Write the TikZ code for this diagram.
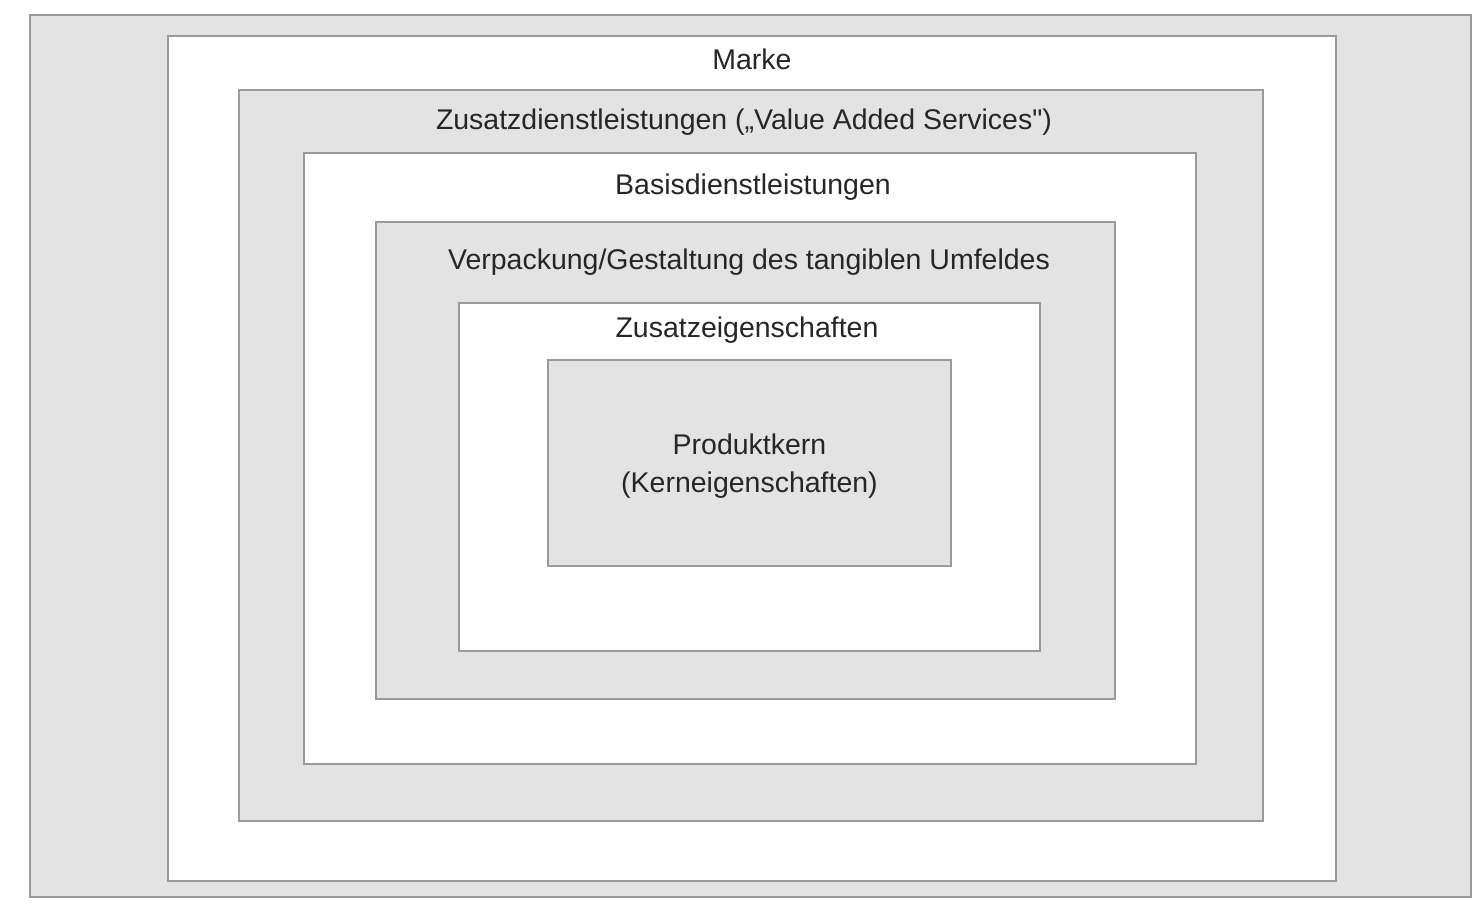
\documentclass[tikz,border=0pt]{standalone}
\usepackage{fontspec}
\setmainfont{Liberation Sans}
\usepackage{tikz}
\usetikzlibrary{positioning}

\definecolor{layergray}{HTML}{E3E3E3}
\definecolor{edgegray}{HTML}{9A9A9A}

\begin{document}
\begin{tikzpicture}[
  x=0.01cm, y=-0.01cm,
  layer/.style={rectangle, draw=edgegray, line width=0.6pt, inner sep=0pt},
  grayfill/.style={layer, fill=layergray},
  whitefill/.style={layer, fill=white},
  lbl/.style={font=\fontsize{8.1}{10.6}\selectfont, text=black!85, align=center, inner sep=0pt}
]
\useasboundingbox (0,0) rectangle (1484,912);

% nested layers, outside to inside
\node[grayfill,  minimum width=14.41cm, minimum height=8.82cm] (umfeld)  at (750.5,456)   {};
\node[whitefill, minimum width=11.68cm, minimum height=8.45cm] (marke)   at (752,458.5)   {};
\node[grayfill,  minimum width=10.24cm, minimum height=7.31cm] (zusatzd) at (751,455.5)   {};
\node[whitefill, minimum width=8.92cm,  minimum height=6.11cm] (basisd)  at (750,458.5)   {};
\node[grayfill,  minimum width=7.39cm,  minimum height=4.77cm] (verpack) at (745.5,460.5) {};
\node[whitefill, minimum width=5.81cm,  minimum height=3.48cm] (zusatze) at (749.5,477)   {};
\node[grayfill,  minimum width=4.03cm,  minimum height=2.06cm] (kern)    at (749.5,463)   {};

% labels
\node[lbl] (tmarke)   at (752,59)  {Marke};
\node[lbl] (tzusatzd) at (744,122) {Zusatzdienstleistungen („Value Added Services\textquotedbl)};
\node[lbl] (tbasisd)  at (753,187) {Basisdienstleistungen};
\node[lbl] (tverpack) at (749,262) {Verpackung/Gestaltung des tangiblen Umfeldes};
\node[lbl] (tzusatze) at (747,330) {Zusatzeigenschaften};
\node[lbl] (tkern)    at (749.5,466) {Produktkern\\(Kerneigenschaften)};

\end{tikzpicture}
\end{document}
